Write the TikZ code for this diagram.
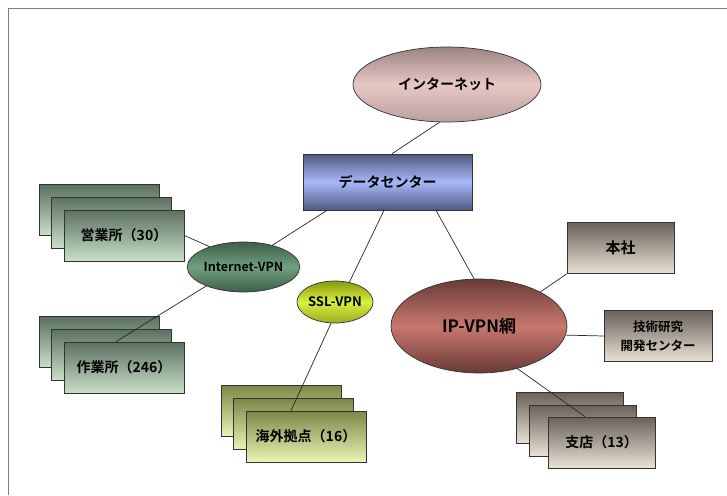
\documentclass[tikz,border=0pt]{standalone}
\usepackage{fontspec}
\setmainfont{Noto Sans CJK JP}[BoldFont={Noto Sans CJK JP Bold}]
\usetikzlibrary{shapes.geometric}
\definecolor{frameg}{HTML}{808080}
\definecolor{green1}{HTML}{5C7060}
\definecolor{green2}{HTML}{C8E0C8}
\definecolor{olive1}{HTML}{7E8648}
\definecolor{olive2}{HTML}{EAF4B4}
\definecolor{beige1}{HTML}{6A625A}
\definecolor{beige2}{HTML}{EAE2D4}
\definecolor{inet1}{HTML}{9A8482}
\definecolor{inet2}{HTML}{E8C8C4}
\definecolor{inet3}{HTML}{B8A0A0}
\definecolor{dc1}{HTML}{4F5A80}
\definecolor{dc2}{HTML}{A8B8F8}
\definecolor{iv1}{HTML}{3E5E48}
\definecolor{iv2}{HTML}{70A080}
\definecolor{ssl1}{HTML}{8A9A10}
\definecolor{ssl2}{HTML}{D8F040}
\definecolor{ssl3}{HTML}{9AAA20}
\definecolor{ip1}{HTML}{6A3A36}
\definecolor{ip2}{HTML}{C8786E}
\tikzset{
  base/.style={draw=black!80, line width=0.7pt, inner sep=0pt, font=\bfseries},
  grnbox/.style={base, rectangle, minimum width=120pt, minimum height=51pt, top color=green1, bottom color=green2},
  olvbox/.style={base, rectangle, minimum width=120pt, minimum height=51pt, top color=olive1, bottom color=olive2},
  bgebox/.style={base, rectangle, minimum width=107pt, minimum height=51pt, top color=beige1, bottom color=beige2},
  oval/.style={base, ellipse},
  link/.style={draw=black!85, line width=0.7pt},
}
\begin{document}
\begin{tikzpicture}[x=1pt,y=-1pt]
\useasboundingbox (0,0) rectangle (727,495);
\draw[frameg, line width=1pt] (8,495) -- (8,9) -- (727,9);

% top
\node[oval, minimum width=188pt, minimum height=75pt, top color=inet1, bottom color=inet3, middle color=inet2, font=\bfseries\fontsize{14}{16}\selectfont] (inet) at (447,84.5) {インターネット};
\node[base, rectangle, minimum width=169pt, minimum height=56pt, top color=dc1, bottom color=dc1, middle color=dc2, font=\bfseries\fontsize{14}{16}\selectfont] (dc) at (387.5,182) {データセンター};

% left stacks
\node[grnbox] at (99,210) {};
\node[grnbox] at (111.5,222.5) {};
\node[grnbox, font=\bfseries\fontsize{14}{16}\selectfont] (eigyo) at (124,235.5) {営業所（30）};
\node[grnbox] at (99,342) {};
\node[grnbox] at (111.5,354.5) {};
\node[grnbox, font=\bfseries\fontsize{14}{16}\selectfont] (sagyo) at (124,367.5) {作業所（246）};

\node[oval, minimum width=107pt, minimum height=50pt, top color=iv1, bottom color=iv1, middle color=iv2, font=\bfseries\fontsize{12.5}{14}\selectfont] (ivpn) at (243.5,267) {Internet-VPN};

% ssl
\node[oval, minimum width=76pt, minimum height=42pt, top color=ssl1, bottom color=ssl3, middle color=ssl2, font=\bfseries\fontsize{13}{15}\selectfont] (ssl) at (335,302) {SSL-VPN};
\node[olvbox] at (281.5,411) {};
\node[olvbox] at (293,424) {};
\node[olvbox, font=\bfseries\fontsize{14}{16}\selectfont] (kaigai) at (306,436.5) {海外拠点（16）};

% ip-vpn
\node[oval, minimum width=176pt, minimum height=94pt, top color=ip1, bottom color=ip1, middle color=ip2, font=\bfseries\fontsize{17}{19}\selectfont] (ipvpn) at (479,326) {IP-VPN網};
\node[bgebox, font=\bfseries\fontsize{15}{17}\selectfont] (honsha) at (620.5,248) {本社};
\node[bgebox, minimum width=108pt, align=center, font=\bfseries\fontsize{12.5}{19}\selectfont] (gijutsu) at (658,336) {技術研究\\開発センター};
\node[bgebox] at (570,418) {};
\node[bgebox] at (583,430.5) {};
\node[bgebox, font=\bfseries\fontsize{14}{16}\selectfont] (shiten) at (601.5,442.5) {支店（13）};

% connectors
\draw[link] (inet.-101) -- ([xshift=4.5pt]dc.north);
\draw[link] ([xshift=-60.5pt]dc.south) -- (ivpn.37);
\draw[link] (ivpn.149) -- (eigyo.east);
\draw[link] (ivpn.207) -- ([xshift=-8pt]sagyo.north);
\draw[link] ([xshift=-3.5pt]dc.south) -- (ssl.54);
\draw[link] ([xshift=-4pt]ssl.south) -- ([xshift=-15pt]kaigai.north);
\draw[link] ([xshift=48.5pt]dc.south) -- ([xshift=-5pt]ipvpn.north);
\draw[link] (ipvpn.29) -- (honsha.south west);
\draw[link] (ipvpn.-6.5) -- (gijutsu.west);
\draw[link] (ipvpn.-48.5) -- ([xshift=-16.5pt]shiten.north);
\end{tikzpicture}
\end{document}
